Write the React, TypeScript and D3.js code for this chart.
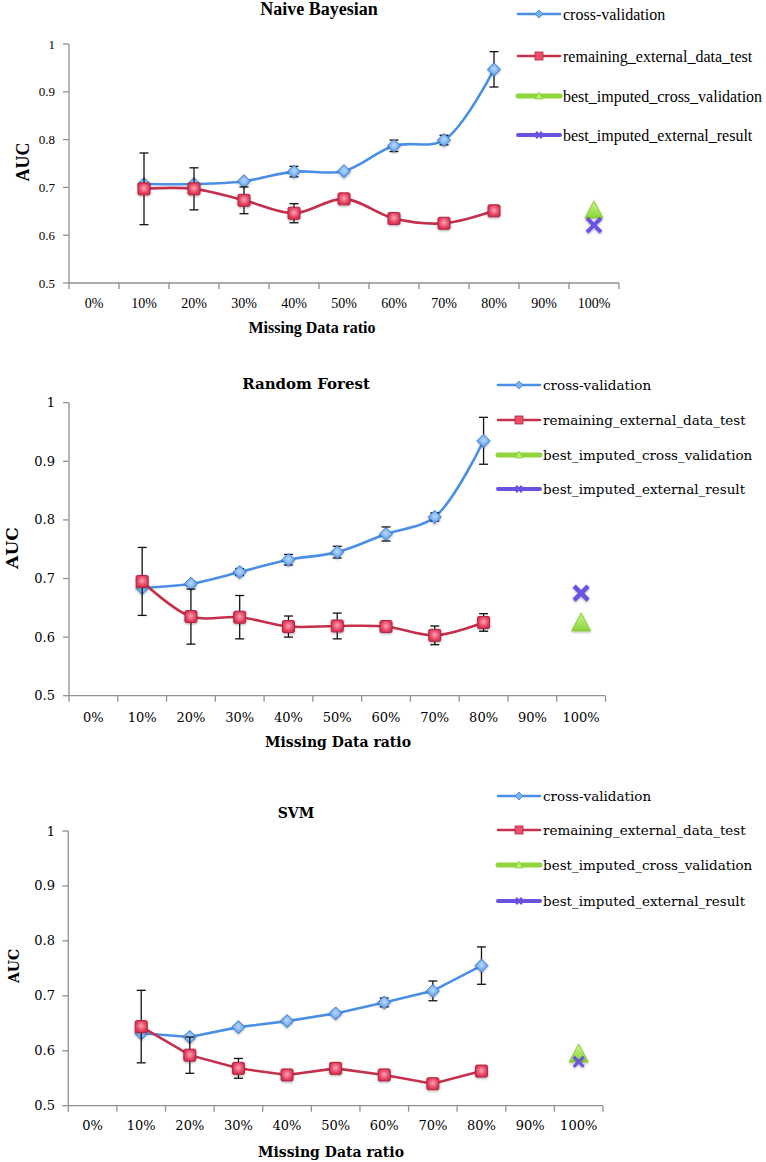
import React from "react";
import * as d3 from "d3";

// ---------- data ----------
const categories = ["0%", "10%", "20%", "30%", "40%", "50%", "60%", "70%", "80%", "90%", "100%"];
const seriesCategories = ["10%", "20%", "30%", "40%", "50%", "60%", "70%", "80%"];
const bestCategory = "100%";
const yTicks = [0.5, 0.6, 0.7, 0.8, 0.9, 1];
const yTickLabels = ["0.5", "0.6", "0.7", "0.8", "0.9", "1"];
const legendLabels = [
  "cross-validation",
  "remaining_external_data_test",
  "best_imputed_cross_validation",
  "best_imputed_external_result",
];
const panelTitles = ["Naive Bayesian", "Random Forest", "SVM"];
const xAxisTitle = "Missing Data ratio";
const yAxisTitle = "AUC";

// Naive Bayesian
const nbCrossValidation = [0.707, 0.707, 0.713, 0.733, 0.734, 0.787, 0.799, 0.947];
const nbCrossValidationErr = [0, 0, 0, 0.011, 0.003, 0.012, 0.01, 0.037];
const nbExternal = [0.697, 0.697, 0.673, 0.646, 0.676, 0.635, 0.625, 0.651];
const nbExternalErr = [0.075, 0.044, 0.028, 0.02, 0, 0, 0, 0];
const nbBestImputedCV = 0.654;
const nbBestImputedExternal = 0.621;

// Random Forest
const rfCrossValidation = [0.684, 0.691, 0.711, 0.732, 0.745, 0.776, 0.805, 0.935];
const rfCrossValidationErr = [0, 0.004, 0.006, 0.009, 0.01, 0.012, 0.007, 0.04];
const rfExternal = [0.695, 0.635, 0.634, 0.618, 0.619, 0.618, 0.603, 0.625];
const rfExternalErr = [0.058, 0.047, 0.037, 0.018, 0.022, 0.004, 0.016, 0.015];
const rfBestImputedCV = 0.626;
const rfBestImputedExternal = 0.675;

// SVM
const svmCrossValidation = [0.632, 0.625, 0.643, 0.654, 0.668, 0.688, 0.709, 0.755];
const svmCrossValidationErr = [0, 0.004, 0.004, 0.004, 0.004, 0.008, 0.018, 0.034];
const svmExternal = [0.644, 0.592, 0.568, 0.556, 0.568, 0.556, 0.54, 0.563];
const svmExternalErr = [0.066, 0.033, 0.018, 0.007, 0.009, 0, 0, 0];
const svmBestImputedCV = 0.596;
const svmBestImputedExternal = 0.58;

// ---------- styles ----------
const BLUE = "#4a8fe4";
const RED = "#c4304c";
const GREEN = "#8fd63a";
const PURPLE = "#6a52e0";
const AXIS = "#8c9296";

type Layout = {
  x0: number; x1: number; yTop: number; yBottom: number;
  font: string; titleX: number; titleY: number; titleSize: number;
  tickSize: number; yTickSize: number; tickLabelY: number; yLabelX: number;
  axisTitleX: number; axisTitleY: number; axisTitleSize: number;
  aucX: number; aucY: number; aucSize: number;
  legLineX0: number; legLineX1: number; legTextX: number; legRows: number[]; legSize: number;
  curve: any; sq: number; dia: number; tri: number; cross: number; crossW: number;
};

const layouts: Layout[] = [
  {
    x0: 69, x1: 619, yTop: 44, yBottom: 283, font: "'Liberation Serif', 'Times New Roman', serif",
    titleX: 319, titleY: 15, titleSize: 18, tickSize: 14, yTickSize: 13, tickLabelY: 308, yLabelX: 55,
    axisTitleX: 312, axisTitleY: 333, axisTitleSize: 16, aucX: 23, aucY: 162, aucSize: 18,
    legLineX0: 518, legLineX1: 560, legTextX: 563, legRows: [14, 56, 96, 135], legSize: 16,
    curve: d3.curveCatmullRom.alpha(0.5), sq: 12, dia: 6.5, tri: 18, cross: 7, crossW: 4,
  },
  {
    x0: 69, x1: 605.5, yTop: 402.7, yBottom: 695.7, font: "'DejaVu Serif', serif",
    titleX: 306, titleY: 389, titleSize: 15, tickSize: 13, yTickSize: 13, tickLabelY: 722, yLabelX: 55,
    axisTitleX: 338, axisTitleY: 747, axisTitleSize: 14, aucX: 12, aucY: 548, aucSize: 17,
    legLineX0: 498, legLineX1: 540, legTextX: 543, legRows: [385, 420, 455, 489], legSize: 13.5,
    curve: d3.curveCatmullRom.alpha(0.5), sq: 12, dia: 6.5, tri: 19, cross: 7, crossW: 4.5,
  },
  {
    x0: 68.3, x1: 603, yTop: 831, yBottom: 1105.7, font: "'DejaVu Serif', serif",
    titleX: 296, titleY: 818, titleSize: 14, tickSize: 13, yTickSize: 13, tickLabelY: 1130, yLabelX: 55,
    axisTitleX: 331, axisTitleY: 1157, axisTitleSize: 14, aucX: 14, aucY: 966, aucSize: 14,
    legLineX0: 498, legLineX1: 540, legTextX: 543, legRows: [796, 830, 865, 901], legSize: 13.5,
    curve: d3.curveLinear, sq: 12, dia: 6.5, tri: 19, cross: 5, crossW: 3,
  },
];

const panelData = [
  { cv: nbCrossValidation, cvErr: nbCrossValidationErr, ext: nbExternal, extErr: nbExternalErr, bestCV: nbBestImputedCV, bestExt: nbBestImputedExternal },
  { cv: rfCrossValidation, cvErr: rfCrossValidationErr, ext: rfExternal, extErr: rfExternalErr, bestCV: rfBestImputedCV, bestExt: rfBestImputedExternal },
  { cv: svmCrossValidation, cvErr: svmCrossValidationErr, ext: svmExternal, extErr: svmExternalErr, bestCV: svmBestImputedCV, bestExt: svmBestImputedExternal },
];

function Diamond({ x, y, r }: { x: number; y: number; r: number }) {
  return (
    <path
      d={`M${x},${y - r}L${x + r},${y}L${x},${y + r}L${x - r},${y}Z`}
      fill="url(#diaGrad)" stroke="#3a7bd6" strokeWidth={1} filter="url(#shadow)"
    />
  );
}
function Square({ x, y, s }: { x: number; y: number; s: number }) {
  return (
    <rect x={x - s / 2} y={y - s / 2} width={s} height={s} rx={1.5}
      fill="url(#sqGrad)" stroke="#b02440" strokeWidth={1} filter="url(#shadow)" />
  );
}
function Triangle({ x, y, s }: { x: number; y: number; s: number }) {
  const h = s * 0.95;
  return (
    <path d={`M${x},${y - h / 2}L${x + s / 2},${y + h / 2}L${x - s / 2},${y + h / 2}Z`}
      fill="url(#triGrad)" stroke="#7cc42a" strokeWidth={0.8} filter="url(#shadow)" />
  );
}
function Cross({ x, y, r, w }: { x: number; y: number; r: number; w: number }) {
  return (
    <path d={`M${x - r},${y - r}L${x + r},${y + r}M${x - r},${y + r}L${x + r},${y - r}`}
      stroke={PURPLE} strokeWidth={w} strokeLinecap="butt" fill="none" filter="url(#shadow)" />
  );
}

function ErrorBar({ x, y0, y1 }: { x: number; y0: number; y1: number }) {
  const c = 4.5;
  return (
    <g stroke="#111" strokeWidth={1.3}>
      <line x1={x} x2={x} y1={y0} y2={y1} />
      <line x1={x - c} x2={x + c} y1={y0} y2={y0} />
      <line x1={x - c} x2={x + c} y1={y1} y2={y1} />
    </g>
  );
}

function Panel({ L, D, title }: { L: Layout; D: typeof panelData[0]; title: string }) {
  const x = d3.scaleBand<string>().domain(categories).range([L.x0, L.x1]).paddingInner(0).paddingOuter(0);
  const y = d3.scaleLinear().domain([0.5, 1]).range([L.yBottom, L.yTop]);
  const cx = (c: string) => (x(c) as number) + x.bandwidth() / 2;
  const line = d3.line<number>().x((_, i) => cx(seriesCategories[i])).y((v) => y(v)).curve(L.curve);
  const boundaries = categories.map((c) => x(c) as number).concat([L.x1]);

  const legendY = L.legRows;
  return (
    <g fontFamily={L.font}>
      <text x={L.titleX} y={L.titleY} textAnchor="middle" fontWeight="bold" fontSize={L.titleSize}>{title}</text>
      {/* axes */}
      <line x1={L.x0} x2={L.x0} y1={L.yTop} y2={L.yBottom} stroke={AXIS} strokeWidth={1.3} />
      <line x1={L.x0} x2={L.x1} y1={L.yBottom} y2={L.yBottom} stroke={AXIS} strokeWidth={1.3} />
      {yTicks.map((t, i) => (
        <g key={"yt" + i}>
          <line x1={L.x0 - 6} x2={L.x0} y1={y(t)} y2={y(t)} stroke={AXIS} strokeWidth={1.3} />
          <text x={L.yLabelX} y={y(t) + 4.5} textAnchor="end" fontSize={L.yTickSize}>{yTickLabels[i]}</text>
        </g>
      ))}
      {boundaries.map((b, i) => (
        <line key={"xt" + i} x1={b} x2={b} y1={L.yBottom} y2={L.yBottom + 6} stroke={AXIS} strokeWidth={1.3} />
      ))}
      {categories.map((c) => (
        <text key={"xl" + c} x={cx(c)} y={L.tickLabelY} textAnchor="middle" fontSize={L.tickSize}>{c}</text>
      ))}
      <text x={L.axisTitleX} y={L.axisTitleY} textAnchor="middle" fontWeight="bold" fontSize={L.axisTitleSize}>{xAxisTitle}</text>
      <text transform={`translate(${L.aucX},${L.aucY}) rotate(-90)`} textAnchor="middle" dominantBaseline="central"
        fontWeight="bold" fontSize={L.aucSize}>{yAxisTitle}</text>

      {/* lines */}
      <path d={line(D.cv) || ""} fill="none" stroke={BLUE} strokeWidth={2.6} />
      <path d={line(D.ext) || ""} fill="none" stroke={RED} strokeWidth={2.6} />

      {/* cross-validation markers + error bars */}
      {D.cv.map((v, i) => (
        <g key={"cv" + i}>
          {D.cvErr[i] > 0 && <ErrorBar x={cx(seriesCategories[i])} y0={y(v + D.cvErr[i])} y1={y(v - D.cvErr[i])} />}
          <Diamond x={cx(seriesCategories[i])} y={y(v)} r={L.dia} />
        </g>
      ))}
      {D.ext.map((v, i) => (
        <g key={"ex" + i}>
          {D.extErr[i] > 0 && <ErrorBar x={cx(seriesCategories[i])} y0={y(v + D.extErr[i])} y1={y(v - D.extErr[i])} />}
          <Square x={cx(seriesCategories[i])} y={y(v)} s={L.sq} />
        </g>
      ))}
      <Triangle x={cx(bestCategory)} y={y(D.bestCV)} s={L.tri} />
      <Cross x={cx(bestCategory)} y={y(D.bestExt)} r={L.cross} w={L.crossW} />

      {/* legend */}
      {legendLabels.map((lab, i) => {
        const ly = legendY[i];
        const mx = (L.legLineX0 + L.legLineX1) / 2;
        const colors = [BLUE, RED, GREEN, PURPLE];
        const widths = [2.6, 2.6, 5, 4];
        return (
          <g key={"lg" + i}>
            <line x1={L.legLineX0} x2={L.legLineX1} y1={ly} y2={ly} stroke={colors[i]} strokeWidth={widths[i]} strokeLinecap="round" />
            {i === 0 && <path d={`M${mx},${ly - 4}L${mx + 4},${ly}L${mx},${ly + 4}L${mx - 4},${ly}Z`} fill="#7ab4f2" stroke="#3a7bd6" strokeWidth={0.8} />}
            {i === 1 && <rect x={mx - 4} y={ly - 4} width={8} height={8} fill="#e8506c" stroke="#b02440" strokeWidth={0.8} />}
            {i === 2 && <path d={`M${mx},${ly - 4}L${mx + 4},${ly + 3}L${mx - 4},${ly + 3}Z`} fill="#b5ee6a" stroke="#7cc42a" strokeWidth={0.6} />}
            {i === 3 && <path d={`M${mx - 3},${ly - 3}L${mx + 3},${ly + 3}M${mx - 3},${ly + 3}L${mx + 3},${ly - 3}`} stroke={PURPLE} strokeWidth={2.5} />}
            <text x={L.legTextX} y={ly} dominantBaseline="central" fontSize={L.legSize}>{lab}</text>
          </g>
        );
      })}
    </g>
  );
}

export default function App() {
  return (
    <div style={{ position: "absolute", left: 0, top: 0 }}>
      <svg width={766} height={1162} viewBox="0 0 766 1162" style={{ display: "block", background: "#fff" }}>
        <defs>
          <radialGradient id="diaGrad" cx="50%" cy="45%" r="60%">
            <stop offset="0%" stopColor="#b8dafc" />
            <stop offset="100%" stopColor="#4d92e6" />
          </radialGradient>
          <radialGradient id="sqGrad" cx="50%" cy="45%" r="60%">
            <stop offset="0%" stopColor="#f9a3b4" />
            <stop offset="70%" stopColor="#e4405f" />
            <stop offset="100%" stopColor="#d02d4c" />
          </radialGradient>
          <linearGradient id="triGrad" x1="0" y1="0" x2="0" y2="1">
            <stop offset="0%" stopColor="#c9f58a" />
            <stop offset="100%" stopColor="#8ad43a" />
          </linearGradient>
          <filter id="shadow" x="-50%" y="-50%" width="200%" height="200%">
            <feDropShadow dx="0" dy="1.2" stdDeviation="1" floodColor="#000" floodOpacity="0.3" />
          </filter>
        </defs>
        {layouts.map((L, i) => (
          <Panel key={i} L={L} D={panelData[i]} title={panelTitles[i]} />
        ))}
      </svg>
    </div>
  );
}
